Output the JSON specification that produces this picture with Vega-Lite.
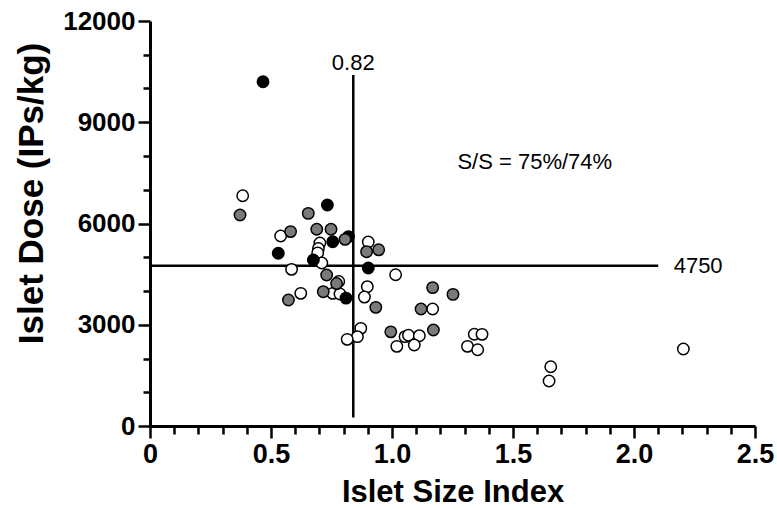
{
  "$schema": "https://vega.github.io/schema/vega-lite/v6.json",
  "autosize": {"type": "none"},
  "width": 605,
  "height": 405,
  "padding": {"left": 150, "top": 21, "right": 22, "bottom": 84},
  "background": "white",
  "config": {
    "view": {"stroke": null},
    "font": "Liberation Sans",
    "axis": {"grid": false, "labelOverlap": false, "labelFlush": false, "domainColor": "black", "tickColor": "black", "labelColor": "black", "titleColor": "black", "domainWidth": 3, "tickWidth": 2.5, "labelFont": "Liberation Sans", "titleFont": "Liberation Sans", "labelFontWeight": "bold", "titleFontWeight": "bold"}
  },
  "resolve": {"axis": {"x": "independent", "y": "independent"}},
  "datasets": {
    "pts": [
      {"isi": 0.383, "dose": 6824, "grp": "white"},
      {"isi": 0.540, "dose": 5630, "grp": "white"},
      {"isi": 0.702, "dose": 5420, "grp": "white"},
      {"isi": 0.696, "dose": 5260, "grp": "white"},
      {"isi": 0.693, "dose": 5130, "grp": "white"},
      {"isi": 0.710, "dose": 4830, "grp": "white"},
      {"isi": 0.902, "dose": 5450, "grp": "white"},
      {"isi": 0.585, "dose": 4642, "grp": "white"},
      {"isi": 1.015, "dose": 4480, "grp": "white"},
      {"isi": 0.780, "dose": 4280, "grp": "white"},
      {"isi": 0.755, "dose": 3931, "grp": "white"},
      {"isi": 0.785, "dose": 3911, "grp": "white"},
      {"isi": 0.623, "dose": 3931, "grp": "white"},
      {"isi": 0.898, "dose": 4128, "grp": "white"},
      {"isi": 0.886, "dose": 3820, "grp": "white"},
      {"isi": 1.168, "dose": 3467, "grp": "white"},
      {"isi": 0.871, "dose": 2894, "grp": "white"},
      {"isi": 0.857, "dose": 2647, "grp": "white"},
      {"isi": 0.815, "dose": 2568, "grp": "white"},
      {"isi": 1.054, "dose": 2647, "grp": "white"},
      {"isi": 1.068, "dose": 2690, "grp": "white"},
      {"isi": 1.113, "dose": 2676, "grp": "white"},
      {"isi": 1.020, "dose": 2360, "grp": "white"},
      {"isi": 1.092, "dose": 2400, "grp": "white"},
      {"isi": 1.340, "dose": 2720, "grp": "white"},
      {"isi": 1.372, "dose": 2716, "grp": "white"},
      {"isi": 1.312, "dose": 2360, "grp": "white"},
      {"isi": 1.354, "dose": 2260, "grp": "white"},
      {"isi": 1.656, "dose": 1757, "grp": "white"},
      {"isi": 1.649, "dose": 1333, "grp": "white"},
      {"isi": 2.204, "dose": 2281, "grp": "white"},
      {"isi": 0.467, "dose": 10200, "grp": "black"},
      {"isi": 0.733, "dose": 6550, "grp": "black"},
      {"isi": 0.820, "dose": 5610, "grp": "black"},
      {"isi": 0.755, "dose": 5460, "grp": "black"},
      {"isi": 0.530, "dose": 5120, "grp": "black"},
      {"isi": 0.675, "dose": 4920, "grp": "black"},
      {"isi": 0.902, "dose": 4680, "grp": "black"},
      {"isi": 0.810, "dose": 3790, "grp": "black"},
      {"isi": 0.372, "dose": 6250, "grp": "gray"},
      {"isi": 0.654, "dose": 6300, "grp": "gray"},
      {"isi": 0.581, "dose": 5760, "grp": "gray"},
      {"isi": 0.689, "dose": 5830, "grp": "gray"},
      {"isi": 0.748, "dose": 5830, "grp": "gray"},
      {"isi": 0.806, "dose": 5530, "grp": "gray"},
      {"isi": 0.895, "dose": 5165, "grp": "gray"},
      {"isi": 0.945, "dose": 5220, "grp": "gray"},
      {"isi": 0.730, "dose": 4474, "grp": "gray"},
      {"isi": 0.771, "dose": 4220, "grp": "gray"},
      {"isi": 0.716, "dose": 3980, "grp": "gray"},
      {"isi": 0.572, "dose": 3733, "grp": "gray"},
      {"isi": 0.933, "dose": 3516, "grp": "gray"},
      {"isi": 1.168, "dose": 4100, "grp": "gray"},
      {"isi": 1.252, "dose": 3900, "grp": "gray"},
      {"isi": 1.120, "dose": 3467, "grp": "gray"},
      {"isi": 0.995, "dose": 2790, "grp": "gray"},
      {"isi": 1.171, "dose": 2844, "grp": "gray"}
    ],
    "rules": [
      {"x1": 0.84, "x2": 0.84, "y1": 250, "y2": 10400},
      {"x1": 0, "x2": 2.1, "y1": 4750, "y2": 4750}
    ],
    "labels": [
      {"x": 0.84, "y": 10750, "txt": "0.82"},
      {"x": 2.265, "y": 4750, "txt": "4750"},
      {"x": 1.59, "y": 7830, "txt": "S/S = 75%/74%"}
    ]
  },
  "layer": [
    {
      "data": {"name": "rules"},
      "mark": {"type": "rule", "color": "black", "strokeWidth": 2.5},
      "encoding": {
        "x": {"field": "x1", "type": "quantitative", "scale": {"domain": [0, 2.5], "nice": false},
          "axis": {
            "orient": "bottom",
            "title": "Islet Size Index", "titleFontSize": 31, "titlePadding": 10,
            "values": [0, 0.5, 1, 1.5, 2, 2.5],
            "labelExpr": "datum.value == 0 ? '0' : format(datum.value, '.1f')",
            "labelOverlap": false, "labelFontSize": 27, "labelPadding": 3, "tickSize": 12
          }},
        "x2": {"field": "x2"},
        "y": {"field": "y1", "type": "quantitative", "scale": {"domain": [0, 12000], "nice": false},
          "axis": {
            "orient": "left",
            "title": "Islet Dose (IPs/kg)", "titleFontSize": 35, "titleX": -108, "titleY": 172, "titleAlign": "center", "titleBaseline": "alphabetic", "titleAngle": 270,
            "values": [0, 3000, 6000, 9000, 12000],
            "format": "d",
            "labelOverlap": false, "labelFontSize": 26, "labelPadding": 3, "tickSize": 12
          }},
        "y2": {"field": "y2"}
      }
    },
    {
      "data": {"name": "pts"},
      "mark": {"type": "circle", "size": 130, "opacity": 1, "stroke": "black", "strokeWidth": 1.5},
      "encoding": {
        "x": {"field": "isi", "type": "quantitative",
          "axis": {"orient": "bottom", "title": null, "labels": false, "domain": false, "tickSize": 8,
            "values": [0.1, 0.2, 0.3, 0.4, 0.6, 0.7, 0.8, 0.9, 1.1, 1.2, 1.3, 1.4, 1.6, 1.7, 1.8, 1.9, 2.1, 2.2, 2.3, 2.4]}},
        "y": {"field": "dose", "type": "quantitative",
          "axis": {"orient": "left", "title": null, "labels": false, "domain": false, "tickSize": 7,
            "values": [1000, 2000, 4000, 5000, 7000, 8000, 10000, 11000]}},
        "color": {"field": "grp", "type": "nominal", "scale": {"domain": ["white", "black", "gray"], "range": ["#ffffff", "#000000", "#7a7a7a"]}, "legend": null}
      }
    },
    {
      "data": {"name": "labels"},
      "mark": {"type": "text", "fontSize": 22, "font": "Liberation Sans", "color": "black", "baseline": "middle", "align": "center"},
      "encoding": {
        "x": {"field": "x", "type": "quantitative", "axis": null},
        "y": {"field": "y", "type": "quantitative", "axis": null},
        "text": {"field": "txt"}
      }
    }
  ]
}
